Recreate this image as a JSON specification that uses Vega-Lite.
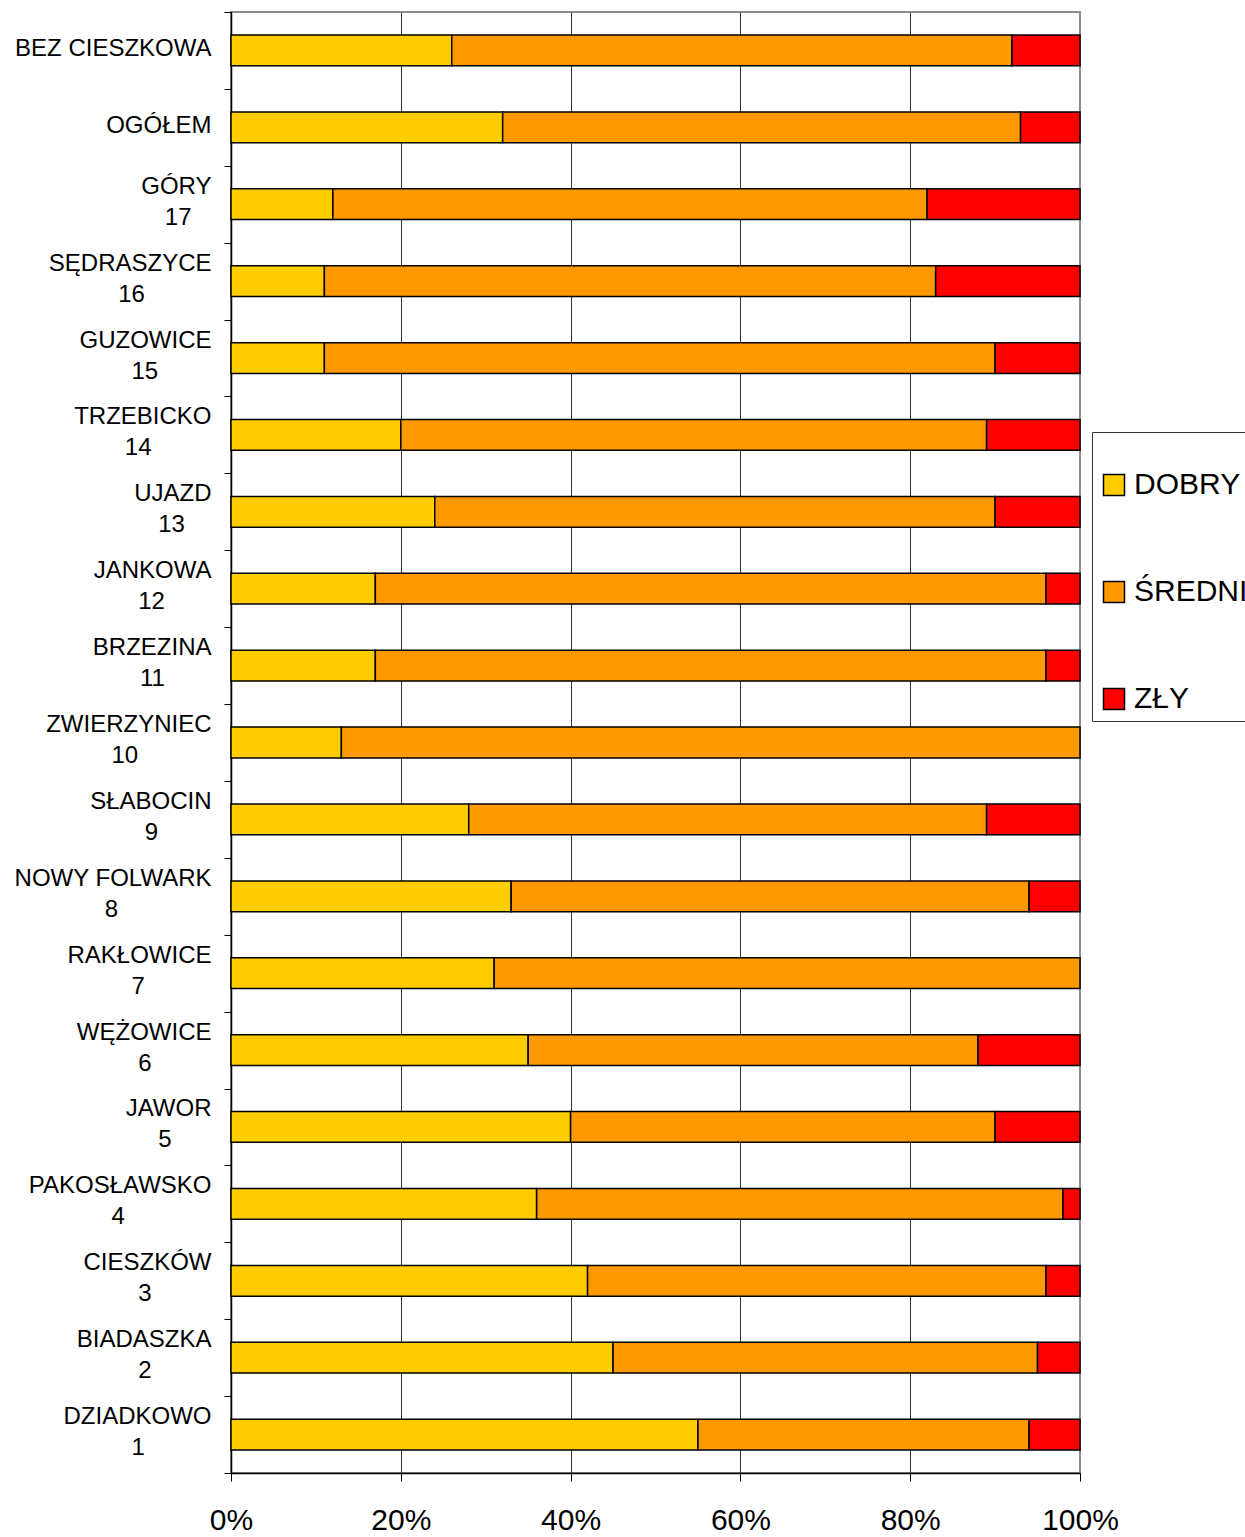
{
  "$schema": "https://vega.github.io/schema/vega-lite/v6.json",
  "autosize": "none",
  "width": 849,
  "height": 1461,
  "padding": {"left": 231, "top": 12, "right": 165, "bottom": 64},
  "background": "white",
  "config": {"font": "Liberation Sans", "view": {"stroke": "#8c8c8c", "strokeWidth": 2}},
  "data": {"values": [
    {"loc": "BEZ CIESZKOWA", "status": "DOBRY", "k": 1, "pct": 26},
    {"loc": "BEZ CIESZKOWA", "status": "ŚREDNI", "k": 2, "pct": 66},
    {"loc": "BEZ CIESZKOWA", "status": "ZŁY", "k": 3, "pct": 8},
    {"loc": "OGÓŁEM", "status": "DOBRY", "k": 1, "pct": 32},
    {"loc": "OGÓŁEM", "status": "ŚREDNI", "k": 2, "pct": 61},
    {"loc": "OGÓŁEM", "status": "ZŁY", "k": 3, "pct": 7},
    {"loc": "GÓRY|17", "status": "DOBRY", "k": 1, "pct": 12},
    {"loc": "GÓRY|17", "status": "ŚREDNI", "k": 2, "pct": 70},
    {"loc": "GÓRY|17", "status": "ZŁY", "k": 3, "pct": 18},
    {"loc": "SĘDRASZYCE|16", "status": "DOBRY", "k": 1, "pct": 11},
    {"loc": "SĘDRASZYCE|16", "status": "ŚREDNI", "k": 2, "pct": 72},
    {"loc": "SĘDRASZYCE|16", "status": "ZŁY", "k": 3, "pct": 17},
    {"loc": "GUZOWICE|15", "status": "DOBRY", "k": 1, "pct": 11},
    {"loc": "GUZOWICE|15", "status": "ŚREDNI", "k": 2, "pct": 79},
    {"loc": "GUZOWICE|15", "status": "ZŁY", "k": 3, "pct": 10},
    {"loc": "TRZEBICKO|14", "status": "DOBRY", "k": 1, "pct": 20},
    {"loc": "TRZEBICKO|14", "status": "ŚREDNI", "k": 2, "pct": 69},
    {"loc": "TRZEBICKO|14", "status": "ZŁY", "k": 3, "pct": 11},
    {"loc": "UJAZD|13", "status": "DOBRY", "k": 1, "pct": 24},
    {"loc": "UJAZD|13", "status": "ŚREDNI", "k": 2, "pct": 66},
    {"loc": "UJAZD|13", "status": "ZŁY", "k": 3, "pct": 10},
    {"loc": "JANKOWA|12", "status": "DOBRY", "k": 1, "pct": 17},
    {"loc": "JANKOWA|12", "status": "ŚREDNI", "k": 2, "pct": 79},
    {"loc": "JANKOWA|12", "status": "ZŁY", "k": 3, "pct": 4},
    {"loc": "BRZEZINA|11", "status": "DOBRY", "k": 1, "pct": 17},
    {"loc": "BRZEZINA|11", "status": "ŚREDNI", "k": 2, "pct": 79},
    {"loc": "BRZEZINA|11", "status": "ZŁY", "k": 3, "pct": 4},
    {"loc": "ZWIERZYNIEC|10", "status": "DOBRY", "k": 1, "pct": 13},
    {"loc": "ZWIERZYNIEC|10", "status": "ŚREDNI", "k": 2, "pct": 87},
    {"loc": "SŁABOCIN|9", "status": "DOBRY", "k": 1, "pct": 28},
    {"loc": "SŁABOCIN|9", "status": "ŚREDNI", "k": 2, "pct": 61},
    {"loc": "SŁABOCIN|9", "status": "ZŁY", "k": 3, "pct": 11},
    {"loc": "NOWY FOLWARK|8", "status": "DOBRY", "k": 1, "pct": 33},
    {"loc": "NOWY FOLWARK|8", "status": "ŚREDNI", "k": 2, "pct": 61},
    {"loc": "NOWY FOLWARK|8", "status": "ZŁY", "k": 3, "pct": 6},
    {"loc": "RAKŁOWICE|7", "status": "DOBRY", "k": 1, "pct": 31},
    {"loc": "RAKŁOWICE|7", "status": "ŚREDNI", "k": 2, "pct": 69},
    {"loc": "WĘŻOWICE|6", "status": "DOBRY", "k": 1, "pct": 35},
    {"loc": "WĘŻOWICE|6", "status": "ŚREDNI", "k": 2, "pct": 53},
    {"loc": "WĘŻOWICE|6", "status": "ZŁY", "k": 3, "pct": 12},
    {"loc": "JAWOR|5", "status": "DOBRY", "k": 1, "pct": 40},
    {"loc": "JAWOR|5", "status": "ŚREDNI", "k": 2, "pct": 50},
    {"loc": "JAWOR|5", "status": "ZŁY", "k": 3, "pct": 10},
    {"loc": "PAKOSŁAWSKO|4", "status": "DOBRY", "k": 1, "pct": 36},
    {"loc": "PAKOSŁAWSKO|4", "status": "ŚREDNI", "k": 2, "pct": 62},
    {"loc": "PAKOSŁAWSKO|4", "status": "ZŁY", "k": 3, "pct": 2},
    {"loc": "CIESZKÓW|3", "status": "DOBRY", "k": 1, "pct": 42},
    {"loc": "CIESZKÓW|3", "status": "ŚREDNI", "k": 2, "pct": 54},
    {"loc": "CIESZKÓW|3", "status": "ZŁY", "k": 3, "pct": 4},
    {"loc": "BIADASZKA|2", "status": "DOBRY", "k": 1, "pct": 45},
    {"loc": "BIADASZKA|2", "status": "ŚREDNI", "k": 2, "pct": 50},
    {"loc": "BIADASZKA|2", "status": "ZŁY", "k": 3, "pct": 5},
    {"loc": "DZIADKOWO|1", "status": "DOBRY", "k": 1, "pct": 55},
    {"loc": "DZIADKOWO|1", "status": "ŚREDNI", "k": 2, "pct": 39},
    {"loc": "DZIADKOWO|1", "status": "ZŁY", "k": 3, "pct": 6}
  ]},
  "mark": {"type": "bar", "height": {"band": 0.4}, "stroke": "black", "strokeWidth": 1.5},
  "encoding": {
    "y": {
      "field": "loc", "type": "nominal", "sort": null, "title": null,
      "scale": {"paddingInner": 0, "paddingOuter": 0},
      "axis": {
        "tickBand": "extent", "tickSize": 7, "tickColor": "black", "tickWidth": 1,
        "domainColor": "black", "domainWidth": 1.5,
        "labelFontSize": 24, "labelLineHeight": 31, "labelColor": "black",
        "labelAlign": "right", "labelPadding": 13, "labelOffset": -2,
        "labelBaseline": {"condition": {"test": "datum.value === 'BEZ CIESZKOWA' || datum.value === 'OGÓŁEM'", "value": "middle"}, "value": "line-bottom"},
        "labelLimit": 400, "labelOverlap": false, "labelBound": false, "grid": false,
        "labelExpr": "isString(datum.label) && indexof(datum.label, '|') >= 0 ? [split(datum.label, '|')[0], pad(split(datum.label, '|')[1], length(split(datum.label, '|')[1]) + [3, 10, 8, 9, 4, 7, 7, 11, 8, 14, 10, 9, 6, 13, 9, 9, 10][indexof(['GÓRY|17', 'SĘDRASZYCE|16', 'GUZOWICE|15', 'TRZEBICKO|14', 'UJAZD|13', 'JANKOWA|12', 'BRZEZINA|11', 'ZWIERZYNIEC|10', 'SŁABOCIN|9', 'NOWY FOLWARK|8', 'RAKŁOWICE|7', 'WĘŻOWICE|6', 'JAWOR|5', 'PAKOSŁAWSKO|4', 'CIESZKÓW|3', 'BIADASZKA|2', 'DZIADKOWO|1'], datum.label)], '\u00a0') + '\u200b'] : datum.label"
      }
    },
    "x": {
      "field": "pct", "type": "quantitative", "stack": "normalize", "title": null,
      "scale": {"domain": [0, 1], "nice": false},
      "axis": {
        "values": [0, 0.2, 0.4, 0.6, 0.8, 1], "format": ".0%",
        "labelFontSize": 30, "labelColor": "black", "labelPadding": 24,
        "labelFlush": false, "labelOverlap": false,
        "tickSize": 8, "tickColor": "black", "tickWidth": 1,
        "domainColor": "black", "domainWidth": 1.5,
        "grid": true, "gridWidth": 1,
        "gridColor": {"condition": {"test": "datum.value === 1", "value": "#8c8c8c"}, "value": "#333333"}
      }
    },
    "color": {
      "field": "status", "type": "nominal",
      "scale": {"domain": ["DOBRY", "ŚREDNI", "ZŁY"], "range": ["#FFCC00", "#FF9900", "#FF0000"]},
      "legend": {
        "orient": "none", "legendX": 861, "legendY": 420, "direction": "vertical",
        "title": " ", "titleFontSize": 20, "titlePadding": 11,
        "padding": 7, "strokeColor": "#333333", "fillColor": "white",
        "symbolType": "square", "symbolSize": 441, "symbolStrokeColor": "black",
        "symbolStrokeWidth": 1.5, "symbolOpacity": 1,
        "labelFontSize": 30, "labelColor": "black", "labelOffset": 5,
        "rowPadding": 77, "labelLimit": 300
      }
    },
    "order": {"field": "k", "type": "quantitative"}
  }
}
